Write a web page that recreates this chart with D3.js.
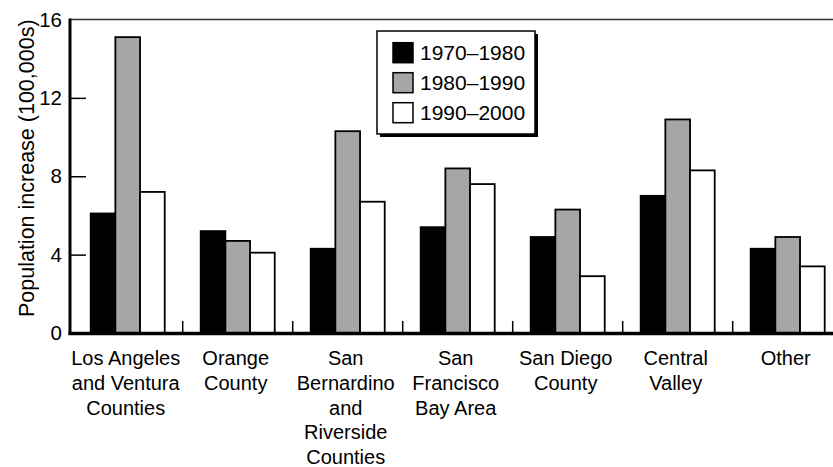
<!DOCTYPE html>
<html>
<head>
<meta charset="utf-8">
<script src="https://cdn.jsdelivr.net/npm/d3@7"></script>
<style>
  body { margin: 0; background: #fff; }
  svg { display: block; font-family: "Liberation Sans", Arial, Helvetica, sans-serif; }
</style>
</head>
<body>
<div id="chart"></div>
<script>
// Population increase by region, in 100,000s
const regions = ['LA', 'Orange', 'SB', 'SF', 'SD', 'CV', 'Other'];
const regionLabels = [
  ['Los Angeles', 'and Ventura', 'Counties'],
  ['Orange', 'County'],
  ['San', 'Bernardino', 'and', 'Riverside', 'Counties'],
  ['San', 'Francisco', 'Bay Area'],
  ['San Diego', 'County'],
  ['Central', 'Valley'],
  ['Other']
];
const series = ['1970–1980', '1980–1990', '1990–2000'];
const values1970 = [6.1, 5.2, 4.3, 5.4, 4.9, 7.0, 4.3];
const values1980 = [15.1, 4.7, 10.3, 8.4, 6.3, 10.9, 4.9];
const values1990 = [7.2, 4.1, 6.7, 7.6, 2.9, 8.3, 3.4];
const yTicks = [0, 4, 8, 12, 16];
const colors = ['#000000', '#a6a6a6', '#ffffff'];

const width = 833;
const height = 467;

const allValues = [values1970, values1980, values1990];
const rows = regions.map((r, i) => ({
  region: r,
  values: series.map((s, j) => ({ series: s, value: allValues[j][i] }))
}));

const svg = d3.select('#chart')
  .append('svg')
  .attr('width', width)
  .attr('height', height);

// Scales
const yScale = d3.scaleLinear()
  .domain([0, 16])
  .range([333, 19.5]);

const xScale = d3.scaleBand()
  .domain(regions)
  .range([72.7, 842.7])
  .paddingInner(0.327)
  .paddingOuter(0.1636);

const xInner = d3.scaleBand()
  .domain(series)
  .range([0, xScale.bandwidth()]);

const axisLeft = 70;
const gap = (xScale.step() - xScale.bandwidth()) / 2;

// Top frame line
svg.append('line')
  .attr('x1', axisLeft).attr('x2', width)
  .attr('y1', yScale(16)).attr('y2', yScale(16))
  .attr('stroke', '#333').attr('stroke-width', 1.5);

// Bars
const groups = svg.selectAll('.group')
  .data(rows)
  .enter()
  .append('g')
  .attr('class', 'group')
  .attr('transform', d => `translate(${xScale(d.region)},0)`);

groups.selectAll('rect')
  .data(d => d.values)
  .enter()
  .append('rect')
  .attr('x', d => xInner(d.series))
  .attr('y', d => yScale(d.value))
  .attr('width', xInner.bandwidth())
  .attr('height', d => yScale(0) - yScale(d.value))
  .attr('fill', (d, i) => colors[i])
  .attr('stroke', '#000')
  .attr('stroke-width', 1.8);

// Y axis (ticks inside the plot)
const yAxis = d3.axisRight(yScale)
  .tickValues(yTicks.filter(t => t > 0 && t < 16))
  .tickSize(16)
  .tickFormat('');

svg.append('g')
  .attr('transform', `translate(${axisLeft},0)`)
  .call(yAxis)
  .call(g => g.select('.domain').remove())
  .call(g => g.selectAll('line').attr('stroke', '#000').attr('stroke-width', 1.5));

svg.selectAll('.ytick-label')
  .data(yTicks)
  .enter()
  .append('text')
  .attr('class', 'ytick-label')
  .attr('x', axisLeft - 8)
  .attr('y', d => yScale(d))
  .attr('dy', '0.35em')
  .attr('text-anchor', 'end')
  .style('font-size', '20.5px')
  .text(d => d);

svg.append('line')
  .attr('x1', axisLeft).attr('x2', axisLeft)
  .attr('y1', yScale(16) - 1).attr('y2', yScale(0) + 1.5)
  .attr('stroke', '#000').attr('stroke-width', 3);

// Separator ticks between groups
svg.selectAll('.sep')
  .data(regions.slice(1))
  .enter()
  .append('line')
  .attr('class', 'sep')
  .attr('x1', d => xScale(d) - gap)
  .attr('x2', d => xScale(d) - gap)
  .attr('y1', yScale(0) - 12)
  .attr('y2', yScale(0))
  .attr('stroke', '#000')
  .attr('stroke-width', 1.5);

// Baseline
svg.append('line')
  .attr('x1', axisLeft - 1.5).attr('x2', width)
  .attr('y1', yScale(0) + 0.5).attr('y2', yScale(0) + 0.5)
  .attr('stroke', '#000').attr('stroke-width', 3.5);

// X labels
const xLabels = svg.selectAll('.xlabel')
  .data(regions)
  .enter()
  .append('text')
  .attr('class', 'xlabel')
  .attr('text-anchor', 'middle')
  .style('font-size', '20px')
  .attr('transform', d => `translate(${xScale(d) + xScale.bandwidth() / 2 - 2},365)`);

xLabels.selectAll('tspan')
  .data((d, i) => regionLabels[i])
  .enter()
  .append('tspan')
  .attr('x', 0)
  .attr('y', (d, i) => i * 24.8)
  .text(d => d);

// Y axis title
svg.append('text')
  .attr('transform', `translate(34,${(yScale(0) + yScale(16)) / 2 - 8}) rotate(-90)`)
  .attr('text-anchor', 'middle')
  .style('font-size', '21.5px')
  .text('Population increase (100,000s)');

// Legend
const legend = svg.append('g')
  .attr('transform', 'translate(377,31)');

legend.append('rect')
  .attr('x', 3).attr('y', 3)
  .attr('width', 158).attr('height', 103)
  .attr('fill', '#000');

legend.append('rect')
  .attr('width', 158).attr('height', 103)
  .attr('fill', '#fff')
  .attr('stroke', '#000')
  .attr('stroke-width', 1.5);

const items = legend.selectAll('.item')
  .data(series)
  .enter()
  .append('g')
  .attr('class', 'item')
  .attr('transform', (d, i) => `translate(16,${11.7 + i * 30})`);

items.append('rect')
  .attr('width', 20).attr('height', 20)
  .attr('fill', (d, i) => colors[i])
  .attr('stroke', '#000')
  .attr('stroke-width', 1.5);

items.append('text')
  .attr('x', 27)
  .attr('y', 10)
  .attr('dy', '0.36em')
  .style('font-size', '21px')
  .text(d => d);
</script>
</body>
</html>
